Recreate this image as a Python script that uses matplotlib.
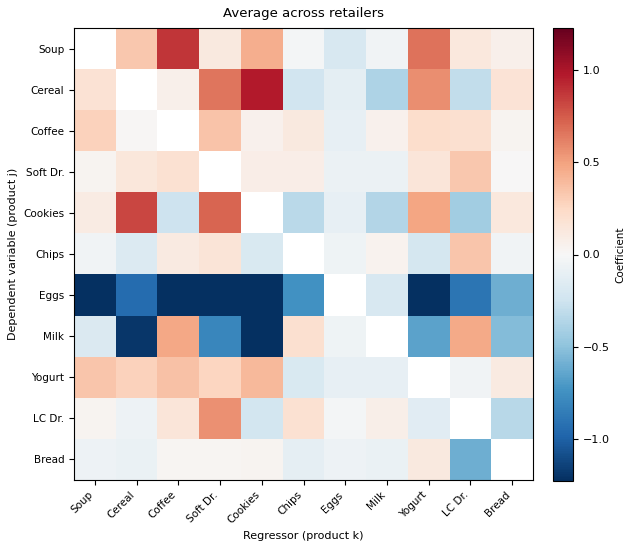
import matplotlib.pyplot as plt
import numpy as np

products = ["Soup", "Cereal", "Coffee", "Soft Dr.", "Cookies", "Chips",
            "Eggs", "Milk", "Yogurt", "LC Dr.", "Bread"]

# rows = dependent variable (product j), columns = regressor (product k)
nan = np.nan
soup    = [nan, 0.33, 0.88, 0.12, 0.45, -0.02, -0.20, -0.04, 0.67, 0.13, 0.06]
cereal  = [0.18, nan, 0.06, 0.66, 0.98, -0.24, -0.12, -0.38, 0.57, -0.30, 0.17]
coffee  = [0.28, 0.01, nan, 0.35, 0.05, 0.12, -0.10, 0.05, 0.22, 0.20, 0.03]
softdr  = [0.03, 0.14, 0.19, nan, 0.08, 0.08, -0.07, -0.07, 0.15, 0.33, 0.00]
cookies = [0.10, 0.82, -0.25, 0.72, nan, -0.33, -0.10, -0.36, 0.49, -0.43, 0.13]
chips   = [-0.04, -0.17, 0.11, 0.16, -0.19, nan, -0.05, 0.04, -0.22, 0.34, -0.04]
eggs    = [-1.35, -0.95, -1.35, -1.35, -1.35, -0.74, nan, -0.20, -1.23, -0.90, -0.60]
milk    = [-0.18, -1.20, 0.48, -0.80, -1.35, 0.20, -0.05, nan, -0.66, 0.47, -0.53]
yogurt  = [0.34, 0.28, 0.36, 0.26, 0.40, -0.19, -0.10, -0.10, nan, -0.04, 0.11]
lcdr    = [0.03, -0.06, 0.15, 0.56, -0.23, 0.19, -0.02, 0.07, -0.14, nan, -0.34]
bread   = [-0.06, -0.08, 0.02, 0.02, 0.03, -0.11, -0.06, -0.08, 0.12, -0.60, nan]

coef = np.array([soup, cereal, coffee, softdr, cookies, chips,
                 eggs, milk, yogurt, lcdr, bread])

vlim = 1.23

fig = plt.figure(figsize=(6.24, 5.42), dpi=100)
ax = fig.add_axes([74 / 624, 62 / 542, 459 / 624, 452 / 542])
cax = fig.add_axes([553 / 624, 61 / 542, 20 / 624, 453 / 542])

im = ax.imshow(coef, cmap="RdBu_r", vmin=-vlim, vmax=vlim, aspect="auto")
ax.set_xticks(range(len(products)))
ax.set_xticklabels(products, rotation=45, ha="right", fontsize=7.5)
ax.set_yticks(range(len(products)))
ax.set_yticklabels(products, fontsize=7.5)
ax.set_xlabel("Regressor (product k)", fontsize=8)
ax.set_ylabel("Dependent variable (product j)", fontsize=8)
ax.set_title("Average across retailers", fontsize=9.5, pad=8)

cb = fig.colorbar(im, cax=cax)
cb.set_label("Coefficient", fontsize=7.5)
cb.ax.tick_params(labelsize=8)

fig.savefig("out.png", dpi=100)
